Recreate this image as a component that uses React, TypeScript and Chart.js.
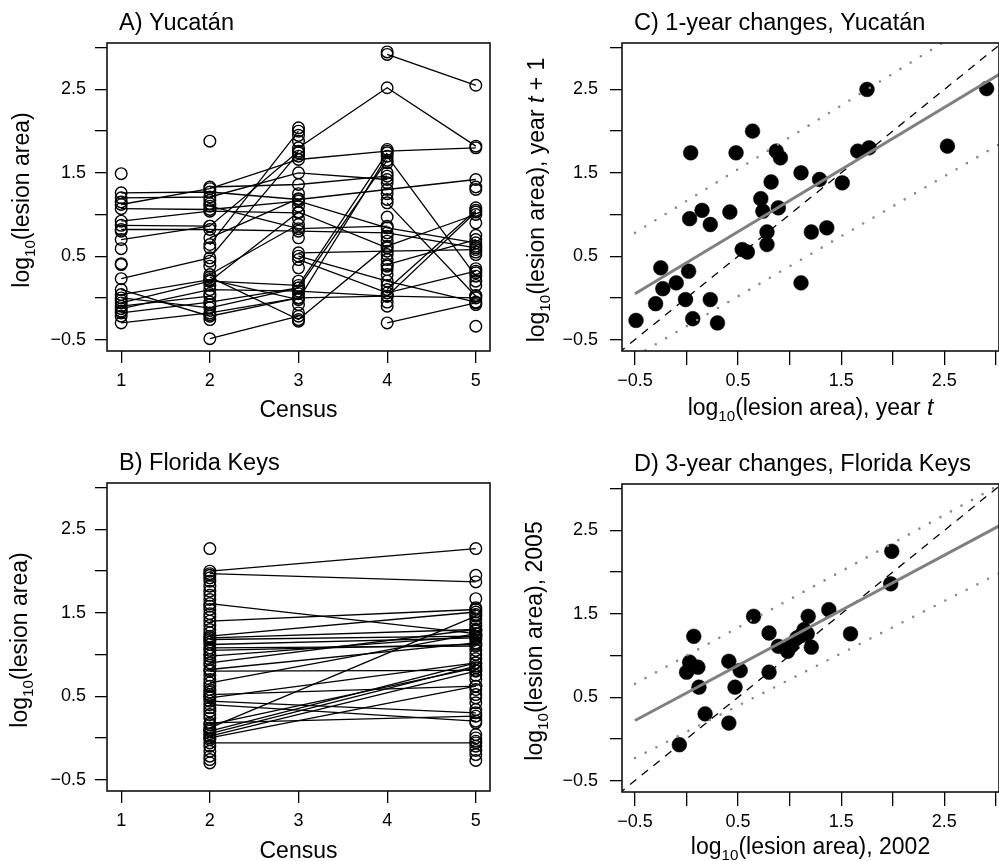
import React, { useEffect, useRef } from "react";
import { Chart, registerables } from "chart.js";

Chart.register(...registerables);

const FONT = '"Liberation Sans", Arial, Helvetica, sans-serif';

// ---------- axis ticks ----------
const censusTicks = [1, 2, 3, 4, 5];
const censusTickLabels = ["1", "2", "3", "4", "5"];
const logTicks = [-0.5, 0, 0.5, 1, 1.5, 2, 2.5, 3];
const logTickLabels = ["\u22120.5", "", "0.5", "", "1.5", "", "2.5", ""];

// ---------- A) Yucatán: colonies followed across censuses 1..5 ----------
const yucatanTracks: (number | null)[][] = [
  [null, null, null, 2.92, 2.55],
  [null, null, 1.8, 2.52, 1.82],
  [1.12, 1.31, 1.66, 1.76, 1.8],
  [1.26, 1.27, 1.18, 1.3, 1.42],
  [1.2, 1.21, 1.5, 1.42, null],
  [1.07, 1.06, 1.16, 0.84, 0.66],
  [0.92, 1.04, 1.02, null, null],
  [0.87, 0.86, 1.76, null, null],
  [0.82, 0.82, 0.8, 0.78, 0.6],
  [0.7, 0.86, null, null, null],
  [0.23, 0.48, 1.74, null, null],
  [0.04, 0.22, -0.02, 1.7, 0.26],
  [0.0, -0.12, 0.12, 1.65, null],
  [-0.06, 0.2, 0.15, 1.74, null],
  [-0.13, 0.1, 0.08, 0.02, 0.0],
  [-0.18, -0.05, 0.12, null, null],
  [-0.3, -0.18, 0.0, null, null],
  [0.1, -0.22, 0.0, 0.02, 1.03],
  [-0.1, 0.02, null, null, null],
  [null, 1.1, 0.83, 0.86, null],
  [null, 0.64, 2.0, null, null],
  [null, 0.72, 1.19, null, null],
  [null, 0.28, 0.88, null, null],
  [null, 0.25, -0.26, 0.62, 1.0],
  [null, -0.49, -0.22, null, null],
  [null, 0.2, 1.03, 0.6, null],
  [null, 1.33, 1.36, 1.46, null],
  [null, null, 0.54, 0.56, 0.58],
  [null, null, 0.46, 0.06, 0.32],
  [null, null, 0.5, 0.2, -0.05],
  [null, null, null, 1.14, 0.02],
  [null, null, null, 0.1, 1.05],
  [null, null, null, -0.3, -0.06],
  [null, null, null, 0.4, 0.7],
];
// colonies seen at a single census only (index = census - 1)
const yucatanUnlinked: number[][] = [
  [1.49, 1.15, 0.8, 0.59, 0.41, 0.4, -0.03, -0.16, -0.22],
  [1.88, 1.17, 1.13, 0.6, 0.44, 0.38, 0.15, 0.05, -0.08, -0.2, -0.26],
  [2.04, 1.95, 1.88, 1.7, 1.25, 1.1, 0.95, 0.72, 0.36, 0.2, 0.05, -0.08, -0.18, -0.28],
  [2.95, 1.78, 1.62, 1.5, 1.38, 1.25, 1.18, 0.97, 0.74, 0.68, 0.52, 0.46, 0.38, 0.34, 0.28, 0.15, -0.05, -0.1],
  [1.33, 1.3, 1.08, 0.9, 0.75, 0.62, 0.55, 0.52, 0.35, 0.3, 0.2, 0.15, 0.03, -0.08, -0.34],
];

// ---------- B) Florida Keys: censuses 2 and 5 ----------
const keysCensus2 = [2.0, 1.97, 1.61, 1.4, 1.22, 1.2, 1.18, 1.12, 1.08, 1.05, 0.98, 0.9, 0.82, 0.8, 0.66, 0.52, 0.48, 0.44, 0.4, 0.18, 0.16, 0.12, 0.08, 0.05, 0.02, 0.0, -0.06];
const keysCensus5 = [2.27, 1.87, 1.25, 1.54, 1.51, 1.3, 1.22, 1.2, 1.1, 1.12, 1.22, 1.3, 1.14, 0.81, 1.25, 0.62, 0.9, 0.3, 0.2, 0.26, 0.84, 1.46, 0.9, 0.86, 0.8, 0.62, -0.06];
const keysOnly2 = [2.27, 1.95, 1.92, 1.88, 1.82, 1.76, 1.71, 1.66, 1.58, 1.54, 1.49, 1.45, 1.35, 1.3, 1.26, 1.15, 1.01, 0.94, 0.87, 0.75, 0.7, 0.62, 0.58, 0.55, 0.5, 0.36, 0.32, 0.28, 0.24, 0.1, -0.02, -0.1, -0.16, -0.22, -0.26, -0.3];
const keysOnly5 = [1.95, 1.67, 1.56, 1.48, 1.42, 1.38, 1.34, 1.28, 1.18, 1.05, 1.0, 0.95, 0.75, 0.7, 0.58, 0.52, 0.48, 0.42, 0.34, 0.18, 0.04, 0.0, -0.04, -0.1, -0.15, -0.2, -0.27];

// ---------- C) 1-year changes, Yucatán ----------
const yucYearT = [-0.49, -0.3, -0.25, -0.23, -0.1, -0.01, 0.02, 0.06, 0.03, 0.04, 0.15, 0.23, 0.23, 0.3, 0.42, 0.48, 0.54, 0.59, 0.64, 0.72, 0.74, 0.78, 0.78, 0.82, 0.87, 0.89, 0.91, 1.11, 1.11, 1.21, 1.29, 1.36, 1.51, 1.66, 1.75, 1.77, 2.53, 2.91];
const yucYearT1 = [-0.27, -0.07, 0.36, 0.11, 0.18, -0.02, 0.32, -0.25, 0.95, 1.74, 1.05, 0.88, -0.02, -0.3, 1.03, 1.74, 0.58, 0.55, 2.0, 1.19, 1.04, 0.79, 0.64, 1.39, 1.76, 1.08, 1.68, 1.5, 0.18, 0.79, 1.42, 0.84, 1.38, 1.76, 2.5, 1.8, 1.82, 2.51];
const fitX = [-0.5, 3.1];
const yucFitY = [0.05, 2.73];
const yucUpperY = [0.78, 3.53];
const yucLowerY = [-0.7, 1.89];

// ---------- D) 3-year changes, Florida Keys ----------
const keys2002 = [-0.07, 0.0, 0.03, 0.07, 0.11, 0.12, 0.18, 0.41, 0.41, 0.47, 0.52, 0.65, 0.8, 0.8, 0.89, 0.98, 1.02, 1.07, 1.11, 1.14, 1.18, 1.17, 1.21, 1.38, 1.59, 1.98, 1.99];
const keys2005 = [-0.07, 0.8, 0.92, 1.23, 0.86, 0.62, 0.3, 0.93, 0.19, 0.62, 0.82, 1.47, 1.27, 0.8, 1.11, 1.05, 1.12, 1.21, 1.24, 1.31, 1.47, 1.26, 1.1, 1.55, 1.26, 1.86, 2.25];
const keysFitY = [0.22, 2.6];
const keysUpperY = [0.66, 3.09];
const keysLowerY = [-0.23, 2.03];

const oneToOne = [-1, 4];

const Y_MIN = -0.637;
const Y_MAX = 3.057;

type Part = { t: string; sub?: boolean; it?: boolean };
const LOG10: Part[] = [{ t: "log" }, { t: "10", sub: true }, { t: "(lesion area)" }];

function drawRich(ctx: CanvasRenderingContext2D, parts: Part[], cx: number, by: number, size: number) {
  ctx.textAlign = "left";
  ctx.textBaseline = "alphabetic";
  const fonts = parts.map((p) => `${p.it ? "italic " : ""}${p.sub ? size * 0.66 : size}px ${FONT}`);
  let w = 0;
  parts.forEach((p, i) => {
    ctx.font = fonts[i];
    w += ctx.measureText(p.t).width;
  });
  let x = cx - w / 2;
  parts.forEach((p, i) => {
    ctx.font = fonts[i];
    ctx.fillText(p.t, x, by + (p.sub ? size * 0.24 : 0));
    x += ctx.measureText(p.t).width;
  });
}

function decor(title: string, xTitle: Part[], yTitle: Part[], xOff: number, yOff: number) {
  return {
    id: "decor",
    afterDraw(chart: any) {
      const { ctx, chartArea: a } = chart;
      ctx.save();
      ctx.strokeStyle = "#111";
      ctx.lineWidth = 1.6;
      ctx.strokeRect(a.left, a.top, a.right - a.left, a.bottom - a.top);
      ctx.fillStyle = "#000";
      ctx.font = `23.5px ${FONT}`;
      ctx.textAlign = "left";
      ctx.textBaseline = "alphabetic";
      ctx.fillText(title, a.left + 12, a.top - 13);
      drawRich(ctx, xTitle, (a.left + a.right) / 2, a.bottom + xOff, 23);
      ctx.translate(a.left - yOff, (a.top + a.bottom) / 2 + 3);
      ctx.rotate(-Math.PI / 2);
      drawRich(ctx, yTitle, 0, 0, 23);
      ctx.restore();
    },
  };
}

function axis(min: number, max: number, ticks: number[], labels: string[], pad: number, tl: number, fit: { width?: number; height?: number }) {
  return {
    type: "linear",
    min,
    max,
    afterBuildTicks: (s: any) => {
      s.ticks = ticks.map((v) => ({ value: v }));
    },
    afterFit: (s: any) => {
      if (fit.width != null) {
        s.width = fit.width;
        s.paddingTop = 0;
        s.paddingBottom = 0;
      }
      if (fit.height != null) {
        s.height = fit.height;
        s.paddingLeft = 0;
        s.paddingRight = 0;
      }
    },
    grid: { display: true, drawOnChartArea: false, drawTicks: true, tickLength: tl, color: "#000", lineWidth: 1.3 },
    border: { display: false },
    ticks: {
      autoSkip: false,
      maxRotation: 0,
      minRotation: 0,
      padding: pad,
      color: "#000",
      font: { family: FONT, size: 18 },
      callback: (_v: any, i: number) => labels[i],
    },
  };
}

const openCircle = {
  borderColor: "#000",
  borderWidth: 1.3,
  pointRadius: 5.8,
  pointBorderWidth: 1.4,
  pointBorderColor: "#000",
  pointBackgroundColor: "rgba(0,0,0,0)",
};

function baseConfig(datasets: any[], xMin: number, xMax: number, xTicks: number[], xLabels: string[], yW: number, xH: number, padding: any, yPad: number, xTl: number, plugin: any) {
  return {
    type: "scatter",
    data: { datasets },
    options: {
      animation: false,
      responsive: false,
      devicePixelRatio: 1,
      events: [],
      layout: { padding, autoPadding: false },
      plugins: { legend: { display: false }, tooltip: { enabled: false } },
      scales: {
        x: axis(xMin, xMax, xTicks, xLabels, 19 - xTl, xTl, { height: xH }),
        y: axis(Y_MIN, Y_MAX, logTicks, logTickLabels, yPad, 12, { width: yW }),
      },
    },
    plugins: [plugin],
  } as any;
}

function scatterSets(xs: number[], ys: number[], fitY: number[], upY: number[], loY: number[]) {
  const line = (ys2: number[], xs2: number[]) => xs2.map((x, i) => ({ x, y: ys2[i] }));
  return [
    { data: line(fitY, fitX), showLine: true, borderColor: "#808080", borderWidth: 3, pointRadius: 0, order: 0 },
    { data: line(upY, fitX), showLine: true, borderColor: "#8a8a8a", borderWidth: 2.6, borderDash: [0, 12], borderCapStyle: "round", pointRadius: 0, order: 0 },
    { data: line(loY, fitX), showLine: true, borderColor: "#8a8a8a", borderWidth: 2.6, borderDash: [0, 12], borderCapStyle: "round", pointRadius: 0, order: 0 },
    { data: line(oneToOne, oneToOne), showLine: true, borderColor: "#000", borderWidth: 1.3, borderDash: [8, 7], pointRadius: 0, order: 1 },
    { data: xs.map((x, i) => ({ x, y: ys[i] })), pointRadius: 7.4, pointBackgroundColor: "#000", pointBorderColor: "#000", pointBorderWidth: 0.5, order: 2 },
  ];
}

export default function App() {
  const refA = useRef<HTMLCanvasElement>(null);
  const refB = useRef<HTMLCanvasElement>(null);
  const refC = useRef<HTMLCanvasElement>(null);
  const refD = useRef<HTMLCanvasElement>(null);

  useEffect(() => {
    const dsA: any[] = yucatanTracks.map((tr) => ({
      ...openCircle,
      showLine: true,
      data: tr
        .map((v, i) => (v == null ? null : { x: censusTicks[i], y: v }))
        .filter((p) => p !== null),
    }));
    dsA.push({
      ...openCircle,
      showLine: false,
      data: yucatanUnlinked.flatMap((vals, i) => vals.map((v) => ({ x: censusTicks[i], y: v }))),
    });

    const dsB: any[] = keysCensus2.map((v, i) => ({
      ...openCircle,
      showLine: true,
      data: [
        { x: 2, y: v },
        { x: 5, y: keysCensus5[i] },
      ],
    }));
    dsB.push({
      ...openCircle,
      showLine: false,
      data: [...keysOnly2.map((v) => ({ x: 2, y: v })), ...keysOnly5.map((v) => ({ x: 5, y: v }))],
    });

    const dsC = scatterSets(yucYearT, yucYearT1, yucFitY, yucUpperY, yucLowerY);
    const dsD = scatterSets(keys2002, keys2005, keysFitY, keysUpperY, keysLowerY);

    const charts = [
      new Chart(
        refA.current!,
        baseConfig(dsA, 0.84, 5.16, censusTicks, censusTickLabels, 107, 79, { top: 43, right: 10, left: 0, bottom: 0 }, 9, 12,
          decor("A) Yucatán", [{ t: "Census" }], LOG10, 66, 78))
      ),
      new Chart(
        refB.current!,
        baseConfig(dsB, 0.84, 5.16, censusTicks, censusTickLabels, 107, 70, { top: 53, right: 10, left: 0, bottom: 0 }, 9, 12,
          decor("B) Florida Keys", [{ t: "Census" }], LOG10, 67, 80))
      ),
      new Chart(
        refC.current!,
        baseConfig(dsC, -0.626, 3.03, logTicks, logTickLabels, 122, 79, { top: 43, right: 0, left: 0, bottom: 0 }, 12, 14,
          decor("C) 1-year changes, Yucatán",
            [...LOG10, { t: ", year " }, { t: "t", it: true }],
            [...LOG10, { t: ", year " }, { t: "t", it: true }, { t: " + 1" }], 64, 78))
      ),
      new Chart(
        refD.current!,
        baseConfig(dsD, -0.626, 3.03, logTicks, logTickLabels, 122, 69, { top: 54, right: 0, left: 0, bottom: 0 }, 12, 14,
          decor("D) 3-year changes, Florida Keys", [...LOG10, { t: ", 2002" }], [...LOG10, { t: ", 2005" }], 62, 80))
      ),
    ];
    return () => charts.forEach((c) => c.destroy());
  }, []);

  const cv = (left: number, top: number, w: number, h: number): React.CSSProperties => ({
    position: "absolute",
    left,
    top,
    width: w,
    height: h,
  });

  return (
    <div style={{ position: "absolute", left: 0, top: 0, width: 999, height: 861, background: "#fff", overflow: "hidden" }}>
      <canvas ref={refA} width={500} height={430} style={cv(0, 0, 500, 430)} />
      <canvas ref={refC} width={499} height={430} style={cv(500, 0, 499, 430)} />
      <canvas ref={refB} width={500} height={431} style={cv(0, 430, 500, 431)} />
      <canvas ref={refD} width={499} height={431} style={cv(500, 430, 499, 431)} />
    </div>
  );
}
